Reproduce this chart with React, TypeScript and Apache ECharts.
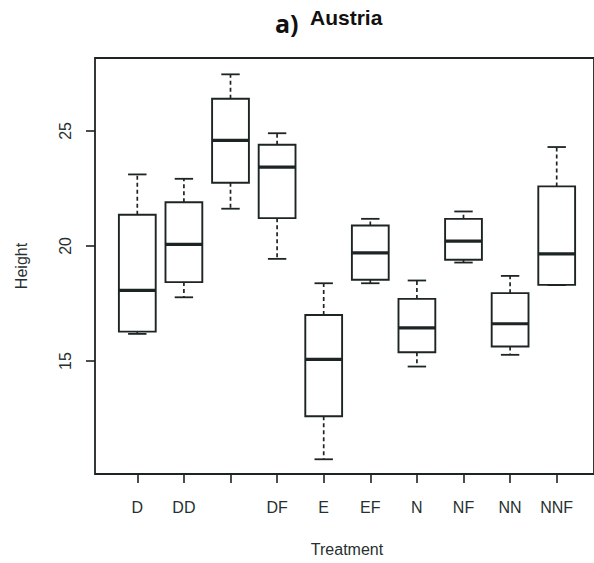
import React, { useEffect, useRef } from "react";
import * as echarts from "echarts";

const tickLabels = ["D", "DD", "", "DF", "E", "EF", "N", "NF", "NN", "NNF"];
const lowerWhisker = [16.18, 17.77, 21.62, 19.44, 10.73, 18.38, 14.76, 19.28, 15.27, 18.3];
const q1 = [16.28, 18.43, 22.75, 21.21, 12.6, 18.53, 15.38, 19.4, 15.63, 18.31];
const median = [18.07, 20.07, 24.59, 23.43, 15.07, 19.7, 16.44, 20.21, 16.62, 19.66];
const q3 = [21.36, 21.9, 26.4, 24.4, 17.0, 20.89, 17.7, 21.18, 17.95, 22.59];
const upperWhisker = [23.11, 22.92, 27.46, 24.9, 18.38, 21.18, 18.5, 21.5, 18.7, 24.3];
const yTicks = [15, 20, 25];

const Y_MIN = 10.09;
const Y_MAX = 28.17;
const LINE = "#1c2424";
const TEXT = "#263030";

export default function App() {
  const ref = useRef<HTMLDivElement>(null);
  useEffect(() => {
    if (!ref.current) return;
    const chart = echarts.init(ref.current, null, { renderer: "svg" });
    const data = tickLabels.map((_, i) => [i, lowerWhisker[i], q1[i], median[i], q3[i], upperWhisker[i]]);
    chart.setOption({
      animation: false,
      backgroundColor: "#fff",
      graphic: [
        { type: "text", x: 275, y: 10, style: { text: "a)", font: 'bold 25px "Open Sans"', fill: "#111" } },
        { type: "text", x: 310, y: 7, style: { text: "Austria", font: 'bold 21px "Liberation Sans"', fill: "#111" } },
      ],
      grid: [
        { left: 95, top: 58, width: 505, height: 416, show: true, borderColor: LINE, borderWidth: 1.8, backgroundColor: "transparent" },
        { left: 114, top: 58, width: 466, height: 416, show: false },
      ],
      xAxis: [
        { gridIndex: 0, type: "value", min: 0, max: 1, show: false },
        {
          gridIndex: 1,
          type: "category",
          data: tickLabels,
          boundaryGap: true,
          axisLine: { show: false },
          axisTick: { show: true, alignWithLabel: true, length: 9, lineStyle: { color: LINE, width: 1.6 } },
          axisLabel: { interval: 0, fontSize: 16, color: TEXT, margin: 25, fontFamily: "Liberation Sans" },
          name: "Treatment",
          nameLocation: "middle",
          nameGap: 67,
          nameTextStyle: { fontSize: 16, color: TEXT, fontFamily: "Liberation Sans" },
        },
      ],
      yAxis: [
        {
          gridIndex: 0,
          type: "value",
          min: Y_MIN,
          max: Y_MAX,
          splitLine: { show: false },
          axisLine: { show: false },
          axisTick: { show: true, length: 9, customValues: yTicks, lineStyle: { color: LINE, width: 1.6 } },
          axisLabel: { rotate: 90, fontSize: 16, color: TEXT, margin: 22, customValues: yTicks, fontFamily: "Liberation Sans" },
          name: "Height",
          nameLocation: "middle",
          nameRotate: 90,
          nameGap: 66,
          nameTextStyle: { fontSize: 16, color: TEXT, fontFamily: "Liberation Sans" },
        },
        { gridIndex: 1, type: "value", min: Y_MIN, max: Y_MAX, show: false, splitLine: { show: false } },
      ],
      series: [
        {
          type: "custom",
          xAxisIndex: 1,
          yAxisIndex: 1,
          data,
          renderItem: (params: any, api: any) => {
            const idx = api.value(0);
            const lo = api.coord([idx, api.value(1)]);
            const b1 = api.coord([idx, api.value(2)]);
            const md = api.coord([idx, api.value(3)]);
            const b3 = api.coord([idx, api.value(4)]);
            const hi = api.coord([idx, api.value(5)]);
            const band = api.size([1, 0])[0];
            const bw = band * 0.79;
            const cx = lo[0];
            const half = bw / 2;
            const cap = bw / 4;
            const dashed = { stroke: LINE, lineWidth: 1.7, lineDash: [4, 3] };
            const solid = { stroke: LINE, lineWidth: 1.8 };
            return {
              type: "group",
              children: [
                { type: "line", shape: { x1: cx, y1: b3[1], x2: cx, y2: hi[1] }, style: dashed },
                { type: "line", shape: { x1: cx, y1: b1[1], x2: cx, y2: lo[1] }, style: dashed },
                { type: "line", shape: { x1: cx - cap, y1: hi[1], x2: cx + cap, y2: hi[1] }, style: solid },
                { type: "line", shape: { x1: cx - cap, y1: lo[1], x2: cx + cap, y2: lo[1] }, style: solid },
                { type: "rect", shape: { x: cx - half, y: b3[1], width: bw, height: b1[1] - b3[1] }, style: { fill: "#fff", stroke: LINE, lineWidth: 1.9 } },
                { type: "line", shape: { x1: cx - half, y1: md[1], x2: cx + half, y2: md[1] }, style: { stroke: LINE, lineWidth: 3.2 } },
              ],
            };
          },
        },
      ],
    });
    return () => chart.dispose();
  }, []);
  return <div ref={ref} style={{ position: "absolute", left: 0, top: 0, width: 594, height: 563, background: "#fff" }} />;
}
